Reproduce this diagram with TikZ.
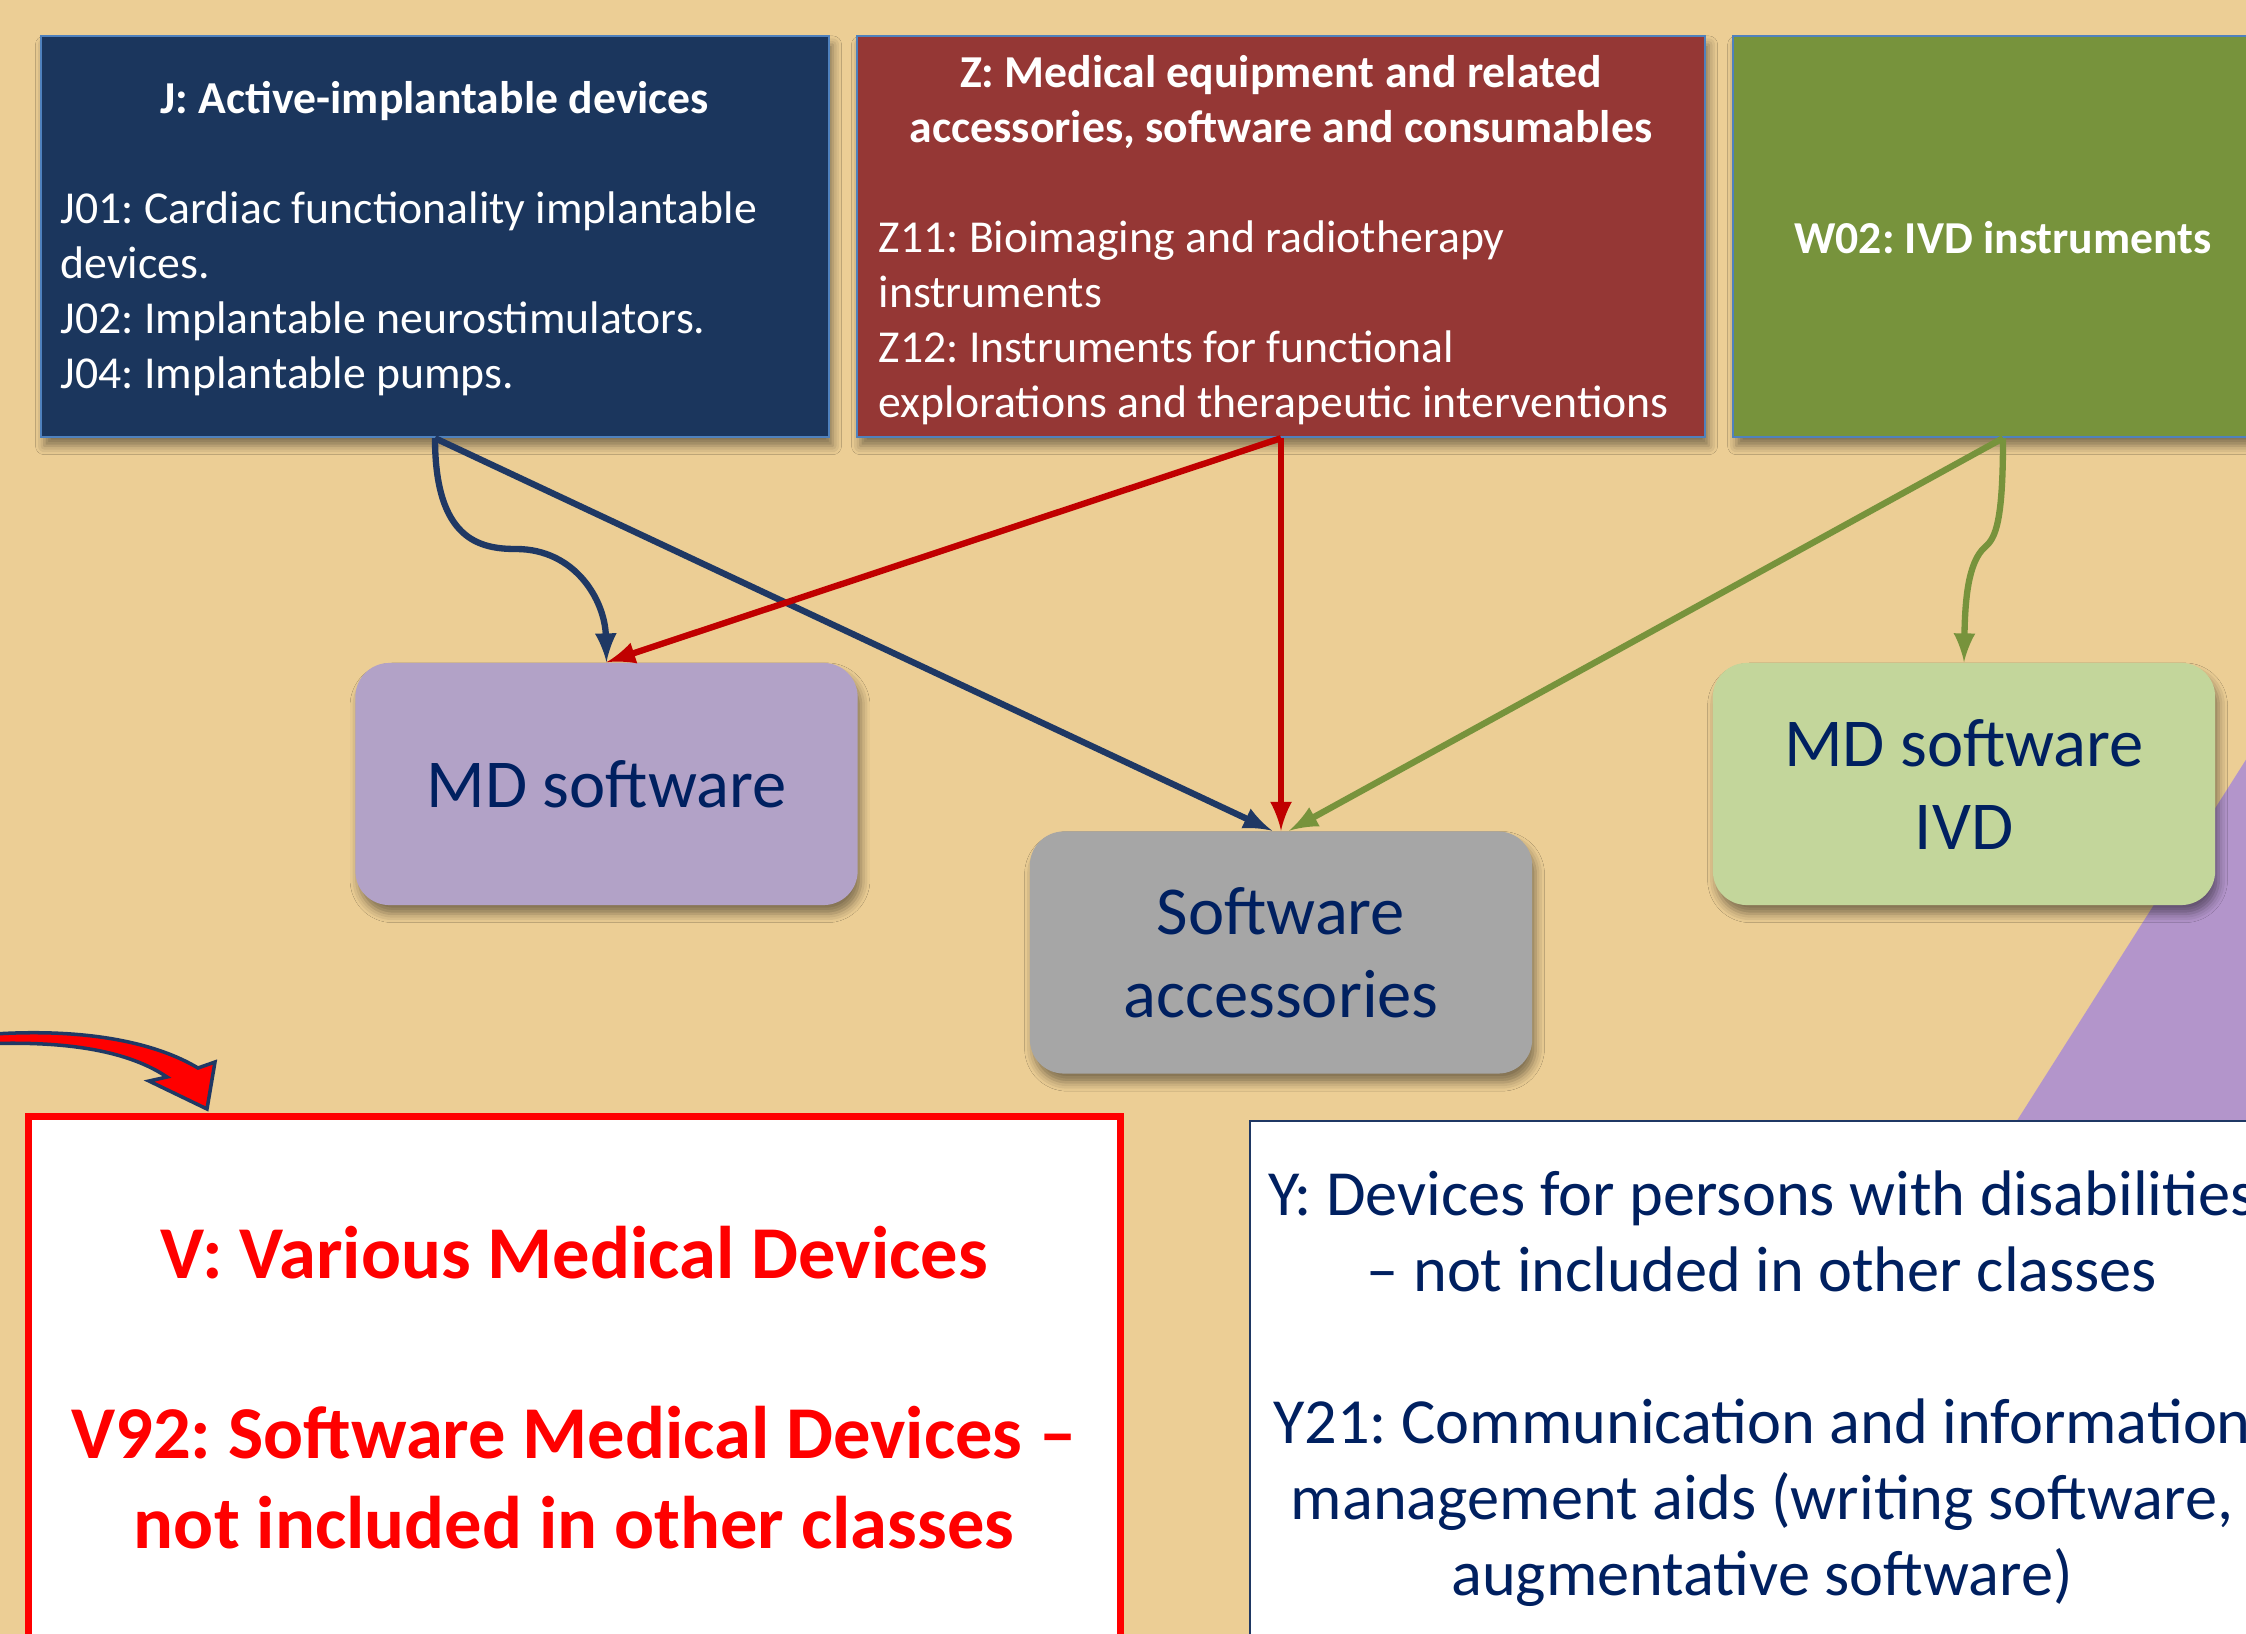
\documentclass[tikz,border=0pt]{standalone}
\usepackage{fontspec}
\setmainfont{Carlito}
\frenchspacing
\usetikzlibrary{arrows, shadows.blur}

\definecolor{sand}{HTML}{ECCE95}
\definecolor{jnavy}{HTML}{1B365D}
\definecolor{zred}{HTML}{953735}
\definecolor{wgreen}{HTML}{77933C}
\definecolor{edgeblue}{HTML}{4F81BD}
\definecolor{mdpurple}{HTML}{B2A2C7}
\definecolor{accgrey}{HTML}{A6A6A6}
\definecolor{ivdgreen}{HTML}{C3D69B}
\definecolor{wedgepurple}{HTML}{B395CB}
\definecolor{textnavy}{HTML}{002060}
\definecolor{linknavy}{HTML}{1F3864}
\definecolor{linkred}{HTML}{C00000}

\begin{document}
\begin{tikzpicture}[x=0.01cm, y=-0.01cm,
    topbox/.style={draw=edgeblue, line width=0.6pt, inner sep=0pt,
        blur shadow={shadow xshift=1pt, shadow yshift=-2.5pt, shadow blur radius=2.5pt, shadow opacity=45}},
    softbox/.style={rounded corners=3.4mm, inner sep=0pt, text=textnavy, align=center,
        font=\fontsize{19.5}{23.6}\selectfont,
        minimum width=5.02cm, minimum height=2.42cm,
        blur shadow={shadow xshift=1pt, shadow yshift=-2.5pt, shadow blur radius=2.5pt, shadow opacity=45}},
    headtext/.style={text=white, align=center, inner sep=0pt,
        font=\fontsize{13}{15.6}\selectfont\bfseries},
    listtext/.style={text=white, align=left, inner sep=0pt, anchor=west,
        font=\fontsize{13}{15.6}\selectfont},
    link/.style={line width=1.8pt, -latex}]

\useasboundingbox (0,0) rectangle (2246,1634);
\clip (0,0) rectangle (2246,1634);
\fill[sand] (0,0) rectangle (2246,1634);

% purple wedge in the lower right corner
\fill[wedgepurple] (1985,1171) -- (2280,706) -- (2280,1634) -- (1985,1634) -- cycle;

% class boxes along the top
\node[topbox, fill=jnavy, minimum width=7.88cm, minimum height=4.01cm] (jbox) at (435,236.5) {};
\node[topbox, fill=zred, minimum width=8.48cm, minimum height=4.01cm] (zbox) at (1281,236.5) {};
\node[topbox, fill=wgreen, minimum width=5.40cm, minimum height=4.01cm] (wbox) at (2003,236.5) {};

\node[headtext] (jhead) at (435,101) {J: Active-implantable devices};
\node[listtext] (jlist) at (60,294) {J01: Cardiac functionality implantable\\devices.\\J02: Implantable neurostimulators.\\J04: Implantable pumps.};

\node[headtext] (zhead) at (1281,102) {Z: Medical equipment and related\\accessories, software and consumables};
\node[listtext] (zlist) at (878,323) {Z11: Bioimaging and radiotherapy\\instruments\\Z12: Instruments for functional\\explorations and therapeutic interventions};

\node[headtext] (whead) at (2003,238) {W02: IVD instruments};

% software groups
\node[softbox, fill=mdpurple] (mdsw) at (606.5,784) {MD software};
\node[softbox, fill=accgrey] (swacc) at (1281,952.5) {Software\\accessories};
\node[softbox, fill=ivdgreen] (mdivd) at (1964,784) {MD software\\IVD};

% links from classes to groups
\draw[link, linknavy] (jbox.south) .. controls (435,540) and (480,549) .. (516,549)
    .. controls (575,549) and (605,600) .. (mdsw.north);
\draw[link, linknavy] (jbox.south) -- ([xshift=-2.5pt]swacc.north);
\draw[link, linkred] (zbox.south) -- (mdsw.north);
\draw[link, linkred] (zbox.south) -- (swacc.north);
\draw[link, wgreen] (wbox.south) -- ([xshift=2.3pt]swacc.north);
\draw[link, wgreen] (wbox.south) .. controls (2003,520) and (1996,538) .. (1985,547)
    .. controls (1968,562) and (1965,600) .. (mdivd.north);

% V and Y boxes at the bottom
\node[draw=red, line width=2pt, fill=white, minimum width=10.91cm, minimum height=6.2cm, inner sep=0pt]
    (vbox) at (574.5,1427) {};
\node[text=red, align=center, inner sep=0pt, font=\fontsize{21.2}{25.6}\selectfont\bfseries]
    (vtext) at (574,1388) {V: Various Medical Devices\\[25.6pt]V92: Software Medical Devices --\\not included in other classes};

\node[draw=linknavy, line width=0.6pt, fill=white, minimum width=10.24cm, minimum height=6.2cm, inner sep=0pt]
    (ybox) at (1762,1431) {};
\node[text=textnavy, align=center, inner sep=0pt, font=\fontsize{18.3}{21.6}\selectfont]
    (ytext) at (1762,1389) {Y: Devices for persons with disabilities\\-- not included in other classes\\[21.6pt]Y21: Communication and information\\management aids (writing software,\\augmentative software)};

% curved block arrow pointing at the V box
\filldraw[fill=red, draw=linknavy, line width=1pt, line join=miter]
    (-20,1035) .. controls (90,1026) and (160,1045) .. (198,1068)
    -- (215,1062) -- (207,1109) -- (149,1081) -- (167,1077)
    .. controls (130,1052) and (70,1040) .. (-20,1044) -- cycle;
\end{tikzpicture}
\end{document}
